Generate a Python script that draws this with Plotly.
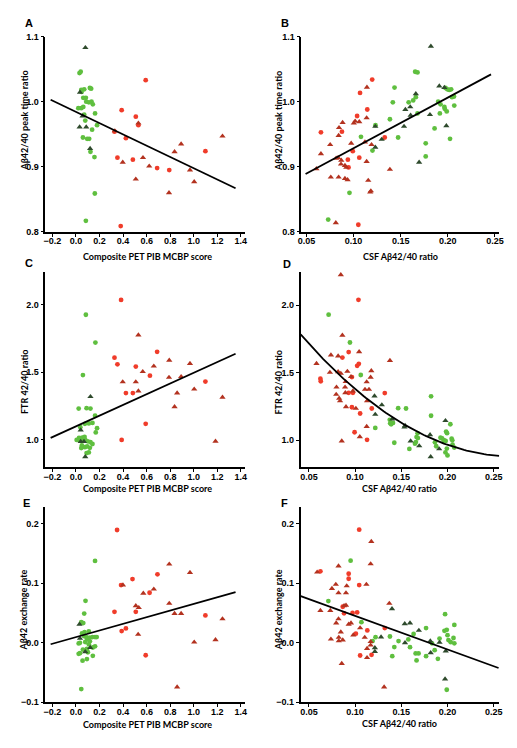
import numpy as np
import plotly.graph_objects as go

# ---------------- data ----------------
# Panel A: Composite PET PIB MCBP score vs Abeta42/40 peak time ratio
A_green = [(0.03,1.044),(0.04,1.046),(0.045,1.018),(0.07,1.019),(0.118,1.021),(0.129,1.020),
           (0.062,1.006),(0.084,1.006),(0.087,1.0),(0.109,0.999),(0.132,1.0),(0.143,0.996),
           (0.045,0.990),(0.062,0.992),(0.162,0.982),(0.07,0.98),(0.179,0.964),(0.079,0.971),
           (0.137,0.957),(0.059,0.945),(0.095,0.943),(0.112,0.943),(0.123,0.923),(0.157,0.915),
           (0.16,0.859),(0.084,0.817),(0.048,1.015),(0.02,0.99)]
A_dkgreen = [(0.08,1.083),(0.034,1.0145),(0.056,0.978),(0.031,0.961),(0.087,0.961),(0.12,0.928)]
A_red = [(0.592,1.033),(0.388,0.987),(0.508,0.977),(0.327,0.954),(0.424,0.944),(0.352,0.914),
         (0.483,0.911),(0.689,0.898),(0.792,0.895),(1.099,0.924),(0.38,0.809),(0.53,0.964)]
A_dkred = [(0.53,0.967),(0.397,0.907),(0.508,0.881),(0.569,0.914),(0.622,0.901),(0.837,0.923),
           (0.893,0.935),(0.79,0.86),(0.968,0.895),(1.004,0.877),(1.244,0.947),(0.33,0.955)]
A_fit_x = [-0.215, 1.355]
A_fit_y = [1.003, 0.867]

# Panel B: CSF Abeta42/40 ratio vs Abeta42/40 peak time ratio
B_green = [(0.1653,1.046),(0.1678,1.045),(0.1434,1.0216),(0.1416,0.999),(0.1632,1.002),(0.1584,0.999),
           (0.166,1.007),(0.1975,1.021),(0.1995,1.019),(0.2015,1.018),(0.2035,1.019),(0.2044,1.007),
           (0.2065,1.008),(0.1897,1.0),(0.1922,0.996),(0.1963,0.992),(0.1967,0.989),(0.2068,0.994),
           (0.1915,0.982),(0.1988,0.985),(0.1678,0.982),(0.1859,0.959),(0.1472,0.945),(0.2023,0.943),
           (0.1765,0.936),(0.1765,0.916),(0.1385,0.973),(0.1232,0.964),(0.1078,0.946),(0.12,0.925),
           (0.0956,0.860),(0.073,0.819)]
B_dkgreen = [(0.166,1.012),(0.1909,1.024),(0.1963,1.0216),(0.1549,0.988),(0.1601,0.992),(0.1605,0.979),
             (0.181,0.980),(0.1535,0.962),(0.1984,0.963),(0.1695,0.907),(0.182,1.085),(0.123,0.962),
             (0.1298,0.942),(0.123,0.930)]
B_red = [(0.1197,1.034),(0.1068,1.0135),(0.1145,0.988),(0.1037,0.978),(0.0653,0.953),(0.0876,0.954),
         (0.133,0.945),(0.0991,0.924),(0.106,0.914),(0.0939,0.911),(0.0946,0.899),(0.105,0.811)]
B_dkred = [(0.1141,1.022),(0.0883,0.968),(0.1002,0.967),(0.1016,0.970),(0.106,0.969),(0.1138,0.975),
           (0.0845,0.960),(0.0841,0.948),(0.0751,0.934),(0.0974,0.936),(0.112,0.938),(0.119,0.934),
           (0.0653,0.920),(0.0814,0.913),(0.0835,0.914),(0.0869,0.910),(0.0866,0.904),(0.0908,0.902),
           (0.0922,0.899),(0.1138,0.908),(0.0758,0.884),(0.0841,0.884),(0.0908,0.882),(0.0936,0.880),
           (0.1155,0.879),(0.1183,0.863),(0.1176,0.861),(0.1385,0.896),(0.0811,0.814),(0.0605,0.897)]
B_fit_x = [0.049, 0.2458]
B_fit_y = [0.889, 1.042]

# Panel C: Composite PET PIB MCBP score vs FTR 42/40 ratio
C_green = [(0.084,1.925),(0.165,1.719),(0.059,1.479),(0.023,1.232),(0.09,1.235),(0.123,1.232),
           (0.162,1.179),(0.076,1.119),(0.109,1.122),(0.14,1.126),(0.037,1.094),(0.179,1.087),
           (0.168,1.056),(0.026,1.015),(0.054,1.017),(0.073,1.022),(0.03,0.998),(0.058,1.0),
           (0.08,0.998),(0.1,0.99),(0.123,0.983),(0.05,0.959),(0.076,0.947),(0.095,0.952),
           (0.118,0.942),(0.045,0.94),(0.09,0.903),(0.109,0.908),(0.006,1.0),(0.14,0.97)]
C_dkgreen = [(0.123,1.32),(0.04,1.073),(0.04,0.988),(0.068,0.988),(0.079,0.876)]
C_red = [(0.383,2.034),(0.327,1.608),(0.352,1.559),(0.508,1.542),(0.689,1.651),(0.424,1.346),
         (0.483,1.346),(0.628,1.475),(1.099,1.431),(0.592,1.119),(0.388,1.0)]
C_dkred = [(0.53,1.775),(0.567,1.504),(0.661,1.545),(0.792,1.588),(0.968,1.564),(0.397,1.429),
           (0.508,1.429),(0.53,1.361),(0.79,1.462),(0.893,1.467),(0.859,1.346),(0.837,1.245),
           (1.004,1.375),(1.244,1.315),(1.185,0.99)]
C_fit_x = [-0.215, 1.355]
C_fit_y = [1.015, 1.637]

# Panel D: CSF Abeta42/40 ratio vs FTR 42/40 ratio
D_green = [(0.0713,1.929),(0.0944,1.723),(0.1061,1.482),(0.1218,1.09),(0.1424,0.98),(0.138,1.124),
           (0.1466,1.236),(0.1551,1.234),(0.1822,1.324),(0.1822,1.18),(0.141,1.127),(0.1676,1.051),
           (0.1665,1.022),(0.168,1.015),(0.1648,0.973),(0.1658,0.985),(0.1587,0.934),(0.1864,0.983),
           (0.1878,0.954),(0.1924,1.017),(0.1942,1.012),(0.196,1.0),(0.1961,0.99),(0.198,0.993),
           (0.1993,0.937),(0.1978,0.908),(0.2,0.886),(0.2031,1.117),(0.1985,1.063),(0.1995,1.051),
           (0.2045,1.01),(0.2052,0.998),(0.2073,0.944),(0.2055,0.966),(0.1375,1.15),(0.139,1.117)]
D_dkgreen = [(0.121,1.326),(0.1289,1.26),(0.1218,1.19),(0.1541,1.107),(0.1534,1.095),(0.1601,0.993),
             (0.1694,0.956),(0.1811,1.039),(0.1818,0.876),(0.191,0.934),(0.1978,1.144),(0.1402,1.156)]
D_red = [(0.1036,2.039),(0.093,1.652),(0.0862,1.611),(0.104,1.565),(0.1022,1.550),(0.0624,1.455),
         (0.0628,1.436),(0.0965,1.467),(0.093,1.350),(0.0976,1.350),(0.0965,1.243),(0.1054,1.197),
         (0.0994,1.058),(0.1129,1.002),(0.1321,1.348),(0.118,1.234)]
D_dkred = [(0.0845,2.225),(0.0862,1.776),(0.1043,1.654),(0.0738,1.630),(0.0816,1.623),(0.0582,1.567),
           (0.1377,1.589),(0.0727,1.501),(0.0816,1.506),(0.0845,1.494),(0.0916,1.509),(0.1175,1.513),
           (0.0955,1.470),(0.1168,1.465),(0.0898,1.433),(0.0798,1.392),(0.1125,1.431),(0.0891,1.392),
           (0.0795,1.338),(0.0827,1.309),(0.0837,1.290),(0.0901,1.246),(0.1008,1.234),(0.1107,1.375),
           (0.115,1.375),(0.1129,1.290),(0.1125,1.100),(0.1051,1.024),(0.0855,0.993),(0.0976,1.363),
           (0.0894,1.350)]
D_fit_coef = [2.134, -9.272, 17.12]   # y = a + b*x + c*x^2
D_fit_span = [0.041, 0.256]

# Panel E: Composite PET PIB MCBP score vs Abeta42 exchange rate
E_green = [(0.162,0.1375),(0.081,0.0705),(0.07,0.049),(0.045,0.0345),(0.062,0.033),(0.051,0.0157),
           (0.073,0.018),(0.109,0.019),(0.068,0.0113),(0.087,0.0096),(0.095,0.0063),(0.115,0.0085),
           (0.14,0.0096),(0.162,0.0096),(0.176,0.0096),(0.023,-0.0012),(0.034,-0.0001),(0.079,0.0013),
           (0.118,0.0024),(0.109,-0.0026),(0.143,-0.008),(0.162,-0.006),(0.059,-0.0114),(0.093,-0.0103),
           (0.034,-0.0175),(0.023,-0.0186),(0.101,-0.016),(0.143,-0.0219),(0.093,-0.0275),(0.056,-0.0302),
           (0.045,-0.0778)]
E_dkgreen = [(0.03,0.031),(0.034,0.0074),(0.121,-0.008),(0.079,-0.0153)]
E_red = [(0.349,0.1895),(0.48,0.107),(0.692,0.115),(0.383,0.097),(0.327,0.052),(0.508,0.052),
         (0.424,0.024),(0.388,0.0196),(0.592,-0.021),(1.099,0.046),(0.625,0.084)]
E_dkred = [(0.792,0.132),(0.968,0.118),(0.572,0.083),(0.661,0.090),(0.399,0.097),(0.508,0.062),
           (0.533,0.059),(0.792,0.066),(0.837,0.049),(0.893,0.049),(0.528,0.014),(1.004,0.001),
           (1.185,0.005),(1.244,0.040),(0.859,-0.0745)]
E_fit_x = [-0.215, 1.355]
E_fit_y = [-0.0025, 0.085]

# Panel F: CSF Abeta42/40 ratio vs Abeta42 exchange rate
F_green = [(0.0951,0.138),(0.071,0.070),(0.1068,0.0345),(0.1189,0.0028),(0.1221,0.0094),(0.1377,0.0105),
           (0.1424,-0.0072),(0.1402,-0.0225),(0.147,0.0028),(0.1594,-0.0075),(0.1576,0.0056),(0.1633,0.0147),
           (0.1655,-0.018),(0.1687,-0.018),(0.1665,-0.0297),(0.1768,-0.0225),(0.1768,0.0246),(0.1861,-0.0125),
           (0.1896,-0.027),(0.1914,0.007),(0.1967,0.020),(0.1992,0.0218),(0.1974,0.048),(0.2,0.0128),
           (0.201,0.0045),(0.2035,0.001),(0.2074,0.030),(0.2065,0.008),(0.2074,-0.001),(0.1992,-0.079),
           (0.1832,-0.001)]
F_dkgreen = [(0.1537,0.0318),(0.1594,0.033),(0.169,0.0207),(0.1214,-0.0086),(0.1214,-0.0147),(0.1281,0.0096),
             (0.154,0.0),(0.1814,0.0028),(0.1818,-0.0169),(0.1914,0.0006),(0.1981,-0.014),(0.1974,-0.061),
             (0.1399,0.057)]
F_red = [(0.1044,0.190),(0.0624,0.120),(0.093,0.116),(0.093,0.1076),(0.1044,0.097),(0.0866,0.0605),
         (0.088,0.0495),(0.0972,0.050),(0.1022,0.051),(0.1008,0.0152),(0.1132,0.0207),(0.1054,-0.0214),
         (0.1178,-0.0203),(0.1321,0.0246)]
F_dkred = [(0.1175,0.170),(0.1168,0.1325),(0.0589,0.1187),(0.082,0.129),(0.1122,0.098),(0.0791,0.098),
           (0.0749,0.091),(0.0901,0.0838),(0.082,0.0838),(0.0909,0.0954),(0.137,0.066),(0.0624,0.054),
           (0.0731,0.054),(0.088,0.062),(0.0901,0.063),(0.082,0.040),(0.0795,0.033),(0.0955,0.033),
           (0.1054,0.025),(0.0845,0.018),(0.093,0.031),(0.0823,0.009),(0.0823,0.003),(0.0738,0.006),
           (0.0866,0.0045),(0.098,0.013),(0.1104,0.009),(0.1129,-0.0097),(0.1129,-0.0252),(0.0855,-0.035),
           (0.1168,0.0017),(0.1168,-0.004),(0.1314,-0.0745)]
F_fit_x = [0.0411, 0.2553]
F_fit_y = [0.0783, -0.0424]

# tick labels
PIB_ticks = [-0.2, 0.0, 0.2, 0.4, 0.6, 0.8, 1.0, 1.2, 1.4]
CSF_ticks = [0.05, 0.10, 0.15, 0.20, 0.25]
PEAK_ticks = [0.8, 0.9, 1.0, 1.1]
FTR_ticks = [1.0, 1.5, 2.0]
EXCH_ticks = [-0.1, 0.0, 0.1, 0.2]

PIB_title = "Composite PET PIB MCBP score"
CSF_title = "CSF Aβ42/40 ratio"
titles_y = {"A": "Aβ42/40 peak time ratio", "B": "Aβ42/40 peak time ratio",
            "C": "FTR 42/40 ratio", "D": "FTR 42/40 ratio",
            "E": "Aβ42 exchange rate", "F": "Aβ42 exchange rate"}

# ---------------- styling ----------------
W, H = 517, 748
COL_GREEN = "#5fbf3f"
COL_DKGREEN = "#2e4a2c"
COL_RED = "#f03c2a"
COL_DKRED = "#b3321f"
TICKFONT = dict(family="Liberation Sans", size=9, color="black", weight="bold")
TITLEFONT = dict(family="Lato", size=9, color="black", weight="bold")

def px_dom(a, b, total, flip=False):
    if flip:
        return [1 - b / total, 1 - a / total]
    return [a / total, b / total]

panels = {
    "A": dict(xd=px_dom(42, 245, W), yd=px_dom(32, 230, H, True), xr=[-0.26, 1.437], yr=[0.8, 1.1],
              xt=PIB_ticks, xf=".1f", yt=PEAK_ticks, yf=".1f",
              green=A_green, dkgreen=A_dkgreen, red=A_red, dkred=A_dkred),
    "B": dict(xd=px_dom(302, 503, W), yd=px_dom(32, 230, H, True), xr=[0.0445, 0.2545], yr=[0.8, 1.1],
              xt=CSF_ticks, xf=".2f", yt=PEAK_ticks, yf=".1f",
              green=B_green, dkgreen=B_dkgreen, red=B_red, dkred=B_dkred),
    "C": dict(xd=px_dom(42, 245, W), yd=px_dom(270.7, 468.3, H, True), xr=[-0.26, 1.437], yr=[0.8, 2.24],
              xt=PIB_ticks, xf=".1f", yt=FTR_ticks, yf=".1f",
              green=C_green, dkgreen=C_dkgreen, red=C_red, dkred=C_dkred),
    "D": dict(xd=px_dom(301.3, 503, W), yd=px_dom(270.7, 468.3, H, True), xr=[0.041, 0.256], yr=[0.8, 2.245],
              xt=CSF_ticks, xf=".2f", yt=FTR_ticks, yf=".1f",
              green=D_green, dkgreen=D_dkgreen, red=D_red, dkred=D_dkred),
    "E": dict(xd=px_dom(42, 245, W), yd=px_dom(508.3, 706.7, H, True), xr=[-0.26, 1.437], yr=[-0.1, 0.229],
              xt=PIB_ticks, xf=".1f", yt=EXCH_ticks, yf=".1f",
              green=E_green, dkgreen=E_dkgreen, red=E_red, dkred=E_dkred),
    "F": dict(xd=px_dom(301.3, 503, W), yd=px_dom(508.3, 706.7, H, True), xr=[0.041, 0.256], yr=[-0.1, 0.229],
              xt=CSF_ticks, xf=".2f", yt=EXCH_ticks, yf=".1f",
              green=F_green, dkgreen=F_dkgreen, red=F_red, dkred=F_dkred),
}

fits = {
    "A": (A_fit_x, A_fit_y), "B": (B_fit_x, B_fit_y), "C": (C_fit_x, C_fit_y),
    "E": (E_fit_x, E_fit_y), "F": (F_fit_x, F_fit_y),
}
Dx = np.linspace(D_fit_span[0], D_fit_span[1], 80)
fits["D"] = (Dx, D_fit_coef[0] + D_fit_coef[1] * Dx + D_fit_coef[2] * Dx ** 2)

fig = go.Figure()
layout = dict(width=W, height=H, margin=dict(l=0, r=0, t=0, b=0),
              paper_bgcolor="white", plot_bgcolor="white", showlegend=False)

groups = [("green", COL_GREEN, "circle", 4.8), ("red", COL_RED, "circle", 4.8),
          ("dkred", COL_DKRED, "triangle-up", 5.5), ("dkgreen", COL_DKGREEN, "triangle-up", 5.5)]

for i, (key, p) in enumerate(panels.items(), start=1):
    xa = "x" if i == 1 else f"x{i}"
    ya = "y" if i == 1 else f"y{i}"
    for g, col, sym, sz in groups:
        pts = p[g]
        fig.add_trace(go.Scatter(x=[q[0] for q in pts], y=[q[1] for q in pts], mode="markers",
                                 marker=dict(color=col, symbol=sym, size=sz, line=dict(width=0)),
                                 xaxis=xa, yaxis=ya, hoverinfo="skip"))
    fx, fy = fits[key]
    fig.add_trace(go.Scatter(x=list(fx), y=list(fy), mode="lines", line=dict(color="black", width=1.8),
                             xaxis=xa, yaxis=ya, hoverinfo="skip"))
    axcommon = dict(showline=True, linecolor="black", linewidth=1.5, ticks="outside", ticklen=3,
                    tickwidth=1.2, tickcolor="black", showgrid=False, zeroline=False,
                    tickfont=TICKFONT, fixedrange=True)
    layout["xaxis" if i == 1 else f"xaxis{i}"] = dict(axcommon, domain=p["xd"], range=p["xr"],
                                                       tickvals=p["xt"], tickformat=p["xf"], anchor=ya,
                                                       ticklabelstandoff=-3)
    layout["yaxis" if i == 1 else f"yaxis{i}"] = dict(axcommon, domain=p["yd"], range=p["yr"],
                                                       tickvals=p["yt"], tickformat=p["yf"], anchor=xa)

fig.update_layout(**layout)

ann = []
letters = {"A": (25, 18), "B": (285, 18), "C": (25, 262), "D": (287, 263), "E": (23, 505), "F": (285, 505)}
for k, (x, y) in letters.items():
    ann.append(dict(text=k, x=x / W, y=1 - y / H, xref="paper", yref="paper", showarrow=False,
                    xanchor="center", yanchor="middle",
                    font=dict(family="Liberation Sans", size=11, color="black", weight="bold")))
ytitle_pos = {"A": (21, 117.5), "B": (279.5, 117.5), "C": (21.5, 382), "D": (279, 382),
              "E": (20, 613), "F": (278.7, 613)}
for k, (x, y) in ytitle_pos.items():
    ann.append(dict(text=titles_y[k], x=x / W, y=1 - y / H, xref="paper", yref="paper", showarrow=False,
                    textangle=-90, xanchor="center", yanchor="middle", font=TITLEFONT))
xtitle_pos = [(PIB_title, 146, 255), (CSF_title, 403, 255), (PIB_title, 146, 490), (CSF_title, 402, 490),
              (PIB_title, 146, 729), (CSF_title, 402, 728)]
for t, x, y in xtitle_pos:
    ann.append(dict(text=t, x=x / W, y=1 - y / H, xref="paper", yref="paper", showarrow=False,
                    xanchor="center", yanchor="middle", font=TITLEFONT))
fig.update_layout(annotations=ann)

fig.write_html("out.html", config={"displayModeBar": False},
               post_script="document.body.style.margin='0';document.body.style.overflow='hidden';")
